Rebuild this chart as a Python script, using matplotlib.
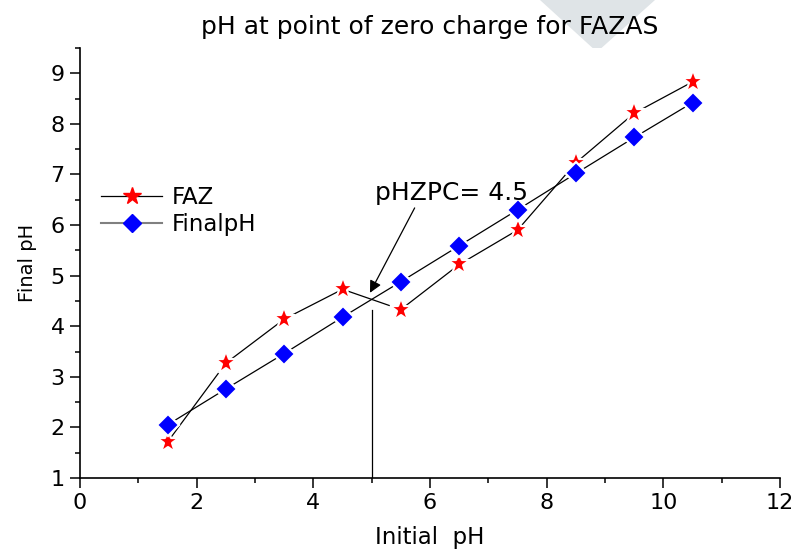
import numpy as np
import matplotlib.pyplot as plt
from matplotlib.lines import Line2D
from matplotlib.patches import Polygon
from matplotlib.ticker import MultipleLocator

plt.rcParams['font.family'] = ['DejaVu Sans']

initial_ph = [1.5, 2.5, 3.5, 4.5, 5.5, 6.5, 7.5, 8.5, 9.5, 10.5]
faz = [1.71, 3.27, 4.14, 4.73, 4.33, 5.22, 5.90, 7.23, 8.21, 8.83]
final_ph = [2.05, 2.76, 3.46, 4.18, 4.88, 5.59, 6.30, 7.02, 7.73, 8.42]
pzc = 4.5

fig = plt.figure(figsize=(7.96, 5.51), dpi=100)
ax = fig.add_axes([0.1005, 0.1325, 0.8795, 0.7805])

# light grey chevron behind the title
fig.patches.append(Polygon([[540 / 796, 1.0], [655 / 796, 1.0], [597 / 796, 1 - 52 / 551]],
                           closed=True, transform=fig.transFigure, facecolor='#dfe4e7',
                           edgecolor='none', zorder=-5))

ax.plot(initial_ph, faz, color='black', lw=0.9, marker='*', ms=17, mfc='red',
        mec='white', mew=1.6, zorder=3)
ax.plot(initial_ph, final_ph, color='black', lw=0.9, marker='D', ms=11, mfc='blue',
        mec='white', mew=1.6, zorder=3)

# zero charge marker
ax.plot([5, 5], [1, 4.32], color='black', lw=0.9)
ax.annotate('pHZPC= %.1f' % pzc, xy=(4.97, 4.66), xytext=(6.36, 6.63),
            fontsize=18, ha='center', va='center',
            arrowprops=dict(arrowstyle='-|>', color='black', lw=0.9, relpos=(0.28, 0.1),
                            mutation_scale=18, shrinkA=0, shrinkB=0))

handles = [Line2D([], [], color='black', lw=0.9, marker='*', ms=13, mfc='red', mec='red'),
           Line2D([], [], color='gray', lw=1.5, marker='D', ms=9, mfc='blue', mec='blue')]
ax.legend(handles, ['FAZ', 'FinalpH'], loc='upper left', bbox_to_anchor=(0.0, 0.728),
          frameon=False, fontsize=16.5, handlelength=2.7, handletextpad=0.4,
          labelspacing=0.2)

ax.set_xlim(0, 12)
ax.set_ylim(1, 9.5)
ax.xaxis.set_major_locator(MultipleLocator(2))
ax.xaxis.set_minor_locator(MultipleLocator(1))
ax.yaxis.set_major_locator(MultipleLocator(1))
ax.yaxis.set_minor_locator(MultipleLocator(0.5))
ax.set_yticks(np.arange(1, 10))

for side in ['top', 'right']:
    ax.spines[side].set_visible(False)
for side in ['left', 'bottom']:
    ax.spines[side].set_linewidth(1.2)
ax.tick_params(which='major', direction='out', length=7, width=1.1, labelsize=16, pad=4)
ax.tick_params(which='minor', direction='out', length=3.6, width=1.1)

ax.set_xlabel('Initial  pH', fontsize=16.5, labelpad=9)
ax.set_ylabel('Final pH', fontsize=14, labelpad=10)
ax.set_title('pH at point of zero charge for FAZAS', fontsize=18, pad=10)

fig.savefig('out.png', dpi=100)
